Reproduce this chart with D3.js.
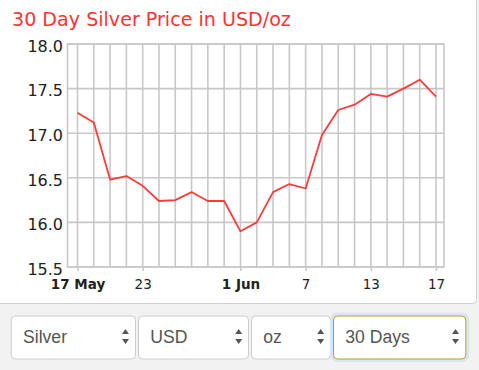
<!DOCTYPE html>
<html>
<head>
<meta charset="utf-8">
<script src="https://cdn.jsdelivr.net/npm/d3@7"></script>
<style>
  html, body { margin: 0; padding: 0; background: #f2f2f2; }
  svg { display: block; }
</style>
</head>
<body>
<svg id="chart" width="479" height="370"></svg>
<script>
// ---- data ----
const dates = ["2016-05-17","2016-05-18","2016-05-19","2016-05-20","2016-05-23","2016-05-24",
  "2016-05-25","2016-05-26","2016-05-27","2016-05-31","2016-06-01","2016-06-02","2016-06-03",
  "2016-06-06","2016-06-07","2016-06-08","2016-06-09","2016-06-10","2016-06-13","2016-06-14",
  "2016-06-15","2016-06-16","2016-06-17"];
const prices = [17.23, 17.12, 16.48, 16.52, 16.41, 16.24, 16.25, 16.34, 16.24, 16.24, 15.90, 16.00,
  16.34, 16.43, 16.38, 16.98, 17.26, 17.32, 17.44, 17.41, 17.50, 17.60, 17.41];
const tickIndex = [0, 4, 10, 14, 18, 22];
const tickLabels = ["17 May", "23", "1 Jun", "7", "13", "17"];
const tickBold = [true, false, true, false, false, false];
const yTicks = [15.5, 16.0, 16.5, 17.0, 17.5, 18.0];
const selectLabels = ["Silver", "USD", "oz", "30 Days"];
const title = "30 Day Silver Price in USD/oz";

// ---- layout ----
const svg = d3.select("#chart");
const L = 67.5, R = 444, T = 44, B = 267;

// card
svg.append("rect").attr("x", -10).attr("y", -10).attr("width", 486.5).attr("height", 313.5)
  .attr("rx", 4).attr("fill", "#fff").attr("stroke", "#cfcfcf").attr("stroke-width", 1);

const x = d3.scaleLinear().domain([-0.613, 22.49]).range([L, R]);
const y = d3.scaleLinear().domain([15.5, 18.0]).range([B, T]);

// title
svg.append("text").attr("x", 12).attr("y", 25.5)
  .attr("font-family", "DejaVu Sans, Verdana, sans-serif").attr("font-size", 19.1)
  .attr("fill", "#ff3333").text(title);

// grid
const grid = svg.append("g").attr("stroke", "#c8c8c8").attr("stroke-width", 1.6).attr("fill", "none");
grid.selectAll("line.v").data(d3.range(dates.length)).join("line")
  .attr("x1", d => x(d)).attr("x2", d => x(d)).attr("y1", T).attr("y2", B);
grid.selectAll("line.h").data(yTicks).join("line")
  .attr("x1", L).attr("x2", R).attr("y1", d => y(d)).attr("y2", d => y(d));
grid.append("rect").attr("x", L).attr("y", T).attr("width", R - L).attr("height", B - T);

// y axis labels
const yAxis = d3.axisLeft(y).tickValues(yTicks).tickFormat(d3.format(".1f")).tickSize(0).tickPadding(4.5);
const gy = svg.append("g").attr("transform", `translate(${L},0)`).call(yAxis);
gy.select(".domain").remove();
gy.selectAll("text").attr("font-family", "DejaVu Sans, Verdana, sans-serif").attr("font-size", 16)
  .attr("fill", "#222").attr("dy", "0.45em");

// x axis
const xAxis = d3.axisBottom(x).tickValues(tickIndex)
  .tickFormat((d, i) => tickLabels[i]).tickSize(4).tickPadding(8.5);
const gx = svg.append("g").attr("transform", `translate(0,${B})`).call(xAxis);
gx.select(".domain").remove();
gx.selectAll("line").attr("stroke", "#c8c8c8").attr("stroke-width", 1.6);
gx.selectAll("text").attr("font-family", "DejaVu Sans, Verdana, sans-serif").attr("font-size", 13.5)
  .attr("fill", "#222").attr("font-weight", (d, i) => tickBold[i] ? "bold" : "normal");

// line
const line = d3.line().x((d, i) => x(i)).y(d => y(d));
svg.append("path").datum(prices).attr("d", line).attr("fill", "none")
  .attr("stroke", "#ff3b3b").attr("stroke-width", 1.8).attr("stroke-linejoin", "round");

// select boxes
const boxes = [
  {x0: 10.7, x1: 136, arrow: 125.5},
  {x0: 138, x1: 249, arrow: 238.7},
  {x0: 251, x1: 331, arrow: 320.7},
  {x0: 333, x1: 466.3, arrow: 455.5}
];
const sb = svg.append("g");
boxes.forEach((b, i) => {
  const g = sb.append("g");
  if (i === 3) {
    g.append("rect").attr("x", b.x0 - 1.5).attr("y", 314).attr("width", b.x1 - b.x0 + 3).attr("height", 46.5)
      .attr("rx", 6).attr("fill", "none").attr("stroke", "#d6e6f5").attr("stroke-width", 3);
  }
  g.append("rect").attr("x", b.x0 + 0.5).attr("y", 316).attr("width", b.x1 - b.x0 - 1).attr("height", 43)
    .attr("rx", 4).attr("fill", "#fff")
    .attr("stroke", i === 3 ? "#c49b16" : "#cccccc").attr("stroke-width", 1);
  g.append("text").attr("x", b.x0 + 12.3).attr("y", 343.3)
    .attr("font-family", "Liberation Sans, Arial, Helvetica, sans-serif").attr("font-size", 17.6)
    .attr("fill", "#555").text(selectLabels[i]);
  g.append("path").attr("d", `M${b.arrow - 3.5},334 L${b.arrow},329 L${b.arrow + 3.5},334 Z M${b.arrow - 3.5},339 L${b.arrow},344 L${b.arrow + 3.5},339 Z`)
    .attr("fill", "#555");
});
</script>
</body>
</html>
